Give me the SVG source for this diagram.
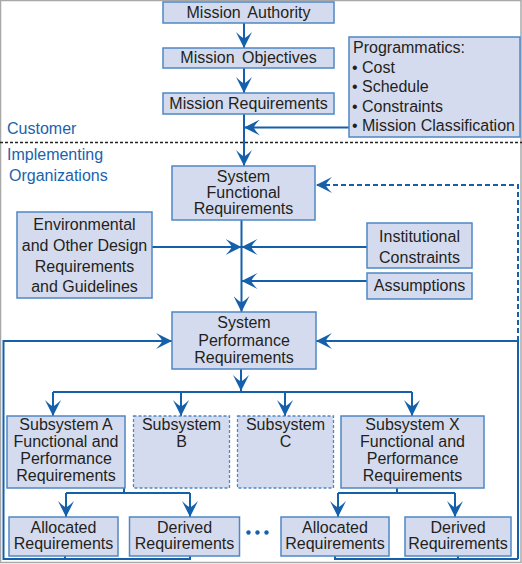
<svg xmlns="http://www.w3.org/2000/svg" width="522" height="564" viewBox="0 0 522 564">
<style>
.box{fill:#d5dbef;stroke:#4f87c4;stroke-width:1.5}
.dbox{fill:#d5dbef;stroke:#4f87c4;stroke-width:1.3;stroke-dasharray:3,2}
.t{font-family:"Liberation Sans",Arial,sans-serif;font-size:16px;fill:#231f20;text-anchor:middle}
.tl{font-family:"Liberation Sans",Arial,sans-serif;font-size:16px;fill:#231f20}
.lbl{font-family:"Liberation Sans",Arial,sans-serif;font-size:16px;fill:#1b62ad}
.c{fill:none;stroke:#1560aa;stroke-width:2}
.ca{fill:none;stroke:#1560aa;stroke-width:2;marker-end:url(#ah)}
.cd{fill:none;stroke:#1560aa;stroke-width:2;stroke-dasharray:5,3;marker-end:url(#ah)}
</style>
<defs>
<marker id="ah" viewBox="-16 -8 16 16" refX="0" refY="0" markerWidth="16" markerHeight="16" markerUnits="userSpaceOnUse" orient="auto">
<path d="M0,0 L-16,-8 Q-10,-2 -10,0 Q-10,2 -16,8 Z" fill="#1560aa"/>
</marker>
</defs>
<rect x="0.5" y="0.5" width="520.5" height="562" fill="#fff" stroke="#a8a8a8" stroke-width="1.5"/>
<line x1="0" y1="142.5" x2="522" y2="142.5" stroke="#222" stroke-width="1.5" stroke-dasharray="3,2"/>
<text class="lbl" x="7" y="134">Customer</text>
<text class="lbl" x="7" y="160">Implementing</text>
<text class="lbl" x="9" y="181">Organizations</text>

<g id="connectors">
<path class="ca" d="M244,23 V48"/>
<path class="ca" d="M244,68 V93"/>
<path class="ca" d="M244,114 V166"/>
<path class="ca" d="M349,127.5 H244"/>
<path class="ca" d="M241.5,220 V312"/>
<path class="ca" d="M152,247 H241.5"/>
<path class="ca" d="M367,247 H241.5"/>
<path class="ca" d="M367,281 H241.5"/>
<path class="cd" d="M518,341 V185 H316"/>
<path class="ca" d="M518,559 V341 H316"/>
<path class="ca" d="M190,556 V559 H3.5 V341 H172"/>
<path class="c" d="M65,556 V559"/>
<path class="c" d="M335,556 V559 H518"/>
<path class="c" d="M458,556 V559"/>
<path class="ca" d="M241,369 V391"/>
<path class="c" d="M53,392 H412"/>
<path class="ca" d="M53,392 V416"/>
<path class="ca" d="M181,392 V416"/>
<path class="ca" d="M285,392 V416"/>
<path class="ca" d="M412,392 V416"/>
<path class="c" d="M124,488 V493 M66,493 H190"/>
<path class="ca" d="M66,493 V517"/>
<path class="ca" d="M190,493 V517"/>
<path class="c" d="M397,488 V493 M338,493 H455"/>
<path class="ca" d="M338,493 V517"/>
<path class="ca" d="M455,493 V517"/>
</g>

<g id="mission-authority"><rect class="box" x="163" y="2" width="171" height="21"/><text class="t" x="248.5" y="17.5" word-spacing="3">Mission Authority</text></g>
<g id="mission-objectives"><rect class="box" x="163" y="48" width="171" height="20"/><text class="t" x="248.5" y="63" word-spacing="3">Mission Objectives</text></g>
<g id="mission-requirements"><rect class="box" x="163" y="93" width="171" height="21"/><text class="t" x="248.5" y="108.5">Mission Requirements</text></g>
<g id="programmatics"><rect class="box" x="349" y="37" width="171" height="100"/>
<text class="tl" x="353" y="53">Programmatics:</text>
<text class="tl" y="73"><tspan x="352">•</tspan><tspan x="362">Cost</tspan></text>
<text class="tl" y="92"><tspan x="352">•</tspan><tspan x="362">Schedule</tspan></text>
<text class="tl" y="112"><tspan x="352">•</tspan><tspan x="362">Constraints</tspan></text>
<text class="tl" y="131"><tspan x="352">•</tspan><tspan x="362">Mission Classification</tspan></text>
</g>
<g id="system-functional"><rect class="box" x="172" y="166" width="143" height="54"/><text class="t" x="243.5" y="182">System</text><text class="t" x="243.5" y="198">Functional</text><text class="t" x="243.5" y="213.5">Requirements</text></g>
<g id="environmental"><rect class="box" x="17" y="212" width="135" height="86"/><text class="t" x="84.5" y="230">Environmental</text><text class="t" x="84.5" y="251">and Other Design</text><text class="t" x="84.5" y="271.5">Requirements</text><text class="t" x="84.5" y="292">and Guidelines</text></g>
<g id="institutional"><rect class="box" x="367" y="223" width="105" height="45"/><text class="t" x="419.5" y="242">Institutional</text><text class="t" x="419.5" y="262.5">Constraints</text></g>
<g id="assumptions"><rect class="box" x="367" y="273" width="105" height="26"/><text class="t" x="419.5" y="291">Assumptions</text></g>
<g id="system-performance"><rect class="box" x="172" y="312" width="144" height="57"/><text class="t" x="244" y="328">System</text><text class="t" x="244" y="346">Performance</text><text class="t" x="244" y="363">Requirements</text></g>
<g id="subsystem-a"><rect class="box" x="7" y="416" width="118" height="72"/><text class="t" x="66" y="430">Subsystem A</text><text class="t" x="66" y="447">Functional and</text><text class="t" x="66" y="464">Performance</text><text class="t" x="66" y="480.5">Requirements</text></g>
<g id="subsystem-b"><rect class="dbox" x="133.5" y="416" width="96" height="72"/><text class="t" x="181.5" y="430">Subsystem</text><text class="t" x="181.5" y="447">B</text></g>
<g id="subsystem-c"><rect class="dbox" x="237.5" y="416" width="96" height="72"/><text class="t" x="285.5" y="430">Subsystem</text><text class="t" x="285.5" y="447">C</text></g>
<g id="subsystem-x"><rect class="box" x="341" y="416" width="143" height="72"/><text class="t" x="412.5" y="430">Subsystem X</text><text class="t" x="412.5" y="447">Functional and</text><text class="t" x="412.5" y="464">Performance</text><text class="t" x="412.5" y="480.5">Requirements</text></g>
<g id="allocated-a"><rect class="box" x="9" y="517" width="109" height="39"/><text class="t" x="63.5" y="532.5">Allocated</text><text class="t" x="63.5" y="548.5">Requirements</text></g>
<g id="derived-a"><rect class="box" x="129.5" y="517" width="110" height="39"/><text class="t" x="184.5" y="532.5">Derived</text><text class="t" x="184.5" y="548.5">Requirements</text></g>
<g id="ellipsis"><circle cx="248.5" cy="532.5" r="2.2" fill="#1560aa"/><circle cx="257.5" cy="532.5" r="2.2" fill="#1560aa"/><circle cx="266.5" cy="532.5" r="2.2" fill="#1560aa"/></g>
<g id="allocated-x"><rect class="box" x="281" y="517" width="108" height="39"/><text class="t" x="335" y="532.5">Allocated</text><text class="t" x="335" y="548.5">Requirements</text></g>
<g id="derived-x"><rect class="box" x="405" y="517" width="106" height="39"/><text class="t" x="458" y="532.5">Derived</text><text class="t" x="458" y="548.5">Requirements</text></g>
</svg>
